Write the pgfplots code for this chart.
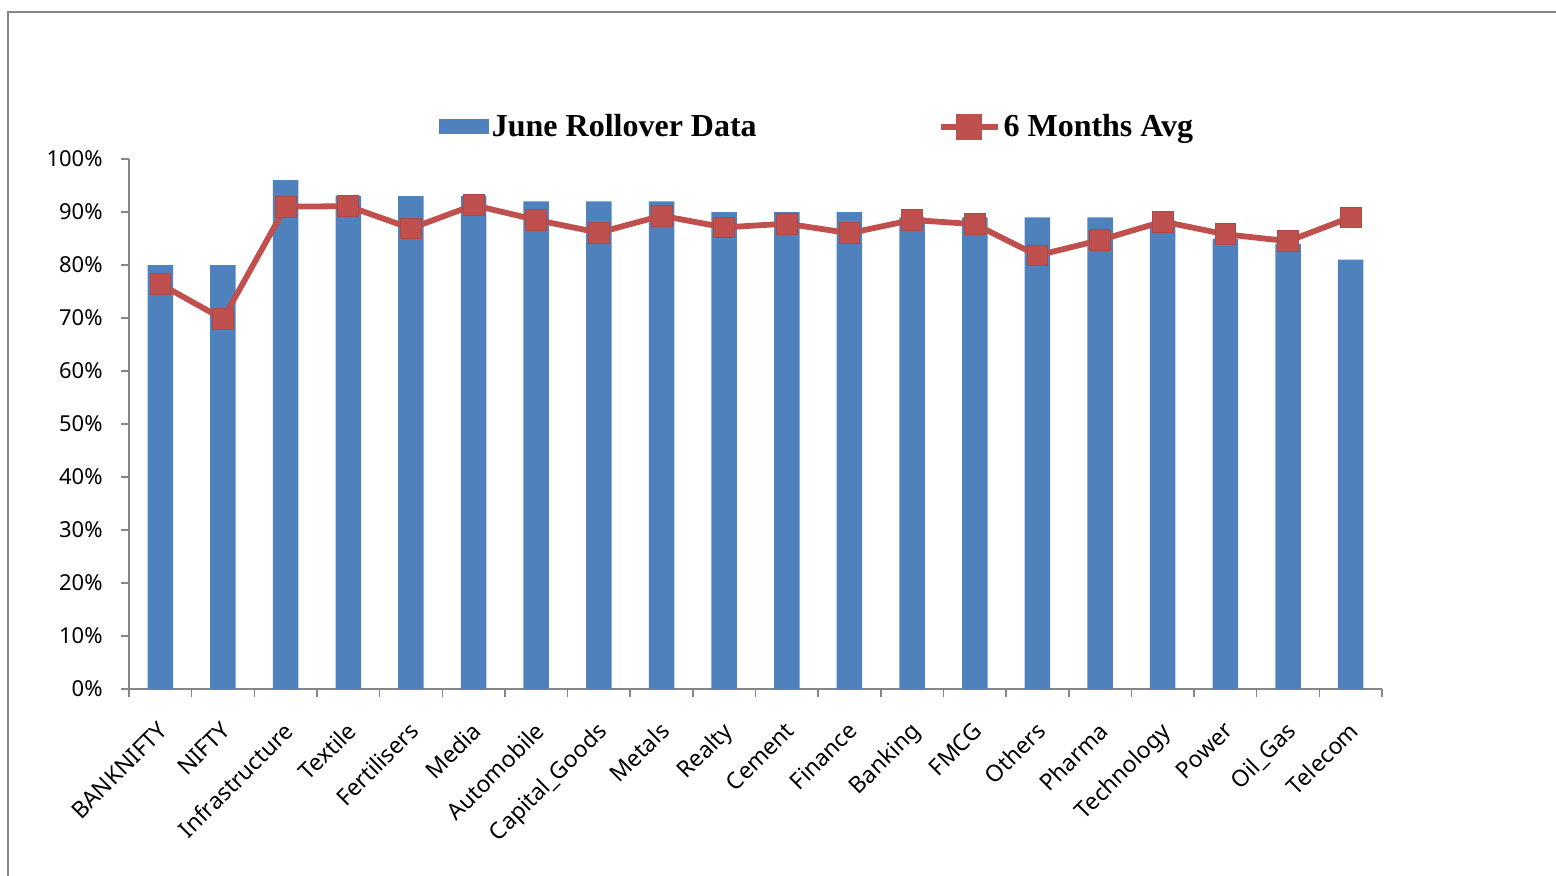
\documentclass[border=0pt]{standalone}
\usepackage{fontspec}
\setmainfont{Noto Sans}
\newfontfamily\legfont{Liberation Serif}
\usepackage{pgfplots}
\usepackage{pgfplotstable}
\pgfplotsset{compat=1.18}
\definecolor{barblue}{HTML}{4F81BD}
\definecolor{linered}{HTML}{C0504D}
\definecolor{axgray}{HTML}{868686}

\pgfplotstableread{
x june avg
0 80 76.4
1 80 69.8
2 96 91.0
3 93 91.1
4 93 86.9
5 93 91.3
6 92 88.5
7 92 86.1
8 92 89.3
9 90 87.1
10 90 87.8
11 90 86.0
12 89 88.5
13 89 87.7
14 89 81.8
15 89 84.7
16 88 88.2
17 85 85.8
18 84 84.5
19 81 89.0
}\datatable

\begin{document}
\begin{tikzpicture}
\useasboundingbox (0,0) rectangle (778pt,437.5pt);
\draw[axgray, line width=1pt] (4pt,-5pt) -- (4pt,431.5pt) -- (790pt,431.5pt);
\begin{axis}[
  at={(64.5pt,93pt)}, anchor=south west,
  scale only axis, width=626.5pt, height=265pt,
  xmin=-0.5, xmax=19.5, ymin=0, ymax=100,
  axis lines*=left,
  axis line style={draw=axgray, line width=0.75pt, -},
  tick style={draw=axgray, line width=0.75pt},
  tick align=outside, major tick length=4pt,
  xtick={-0.5,0.5,...,19.5},
  x tick label as interval,
  xticklabels={BANKNIFTY,NIFTY,Infrastructure,Textile,Fertilisers,Media,Automobile,Capital\_Goods,Metals,Realty,Cement,Finance,Banking,FMCG,Others,Pharma,Technology,Power,Oil\_Gas,Telecom},
  xticklabel style={font=\fontsize{11.5}{13}\selectfont, yshift=-11.5pt, xshift=-1.5pt, rotate=45, anchor=north east, inner sep=0pt},
  ytick={0,10,...,100},
  yticklabels={0\%,10\%,20\%,30\%,40\%,50\%,60\%,70\%,80\%,90\%,100\%},
  yticklabel style={font=\fontsize{11}{13}\selectfont, anchor=east, inner sep=0pt, xshift=-9pt},
  legend columns=2,
  legend style={at={(0.2470,1.0604)}, anchor=west, draw=none, fill=none, inner sep=0pt,
    font=\legfont\bfseries\fontsize{16}{18}\selectfont,
    nodes={inner sep=1.5pt},
    /tikz/every even column/.append style={column sep=89pt}},
]
\addplot[ybar, bar width=12.75pt, bar shift=0pt, fill=barblue, draw=none,
  legend image code/.code={\fill[barblue] (0pt,-3.75pt) rectangle (25pt,3.75pt);}]
  table[x=x, y=june] {\datatable};
\addlegendentry{June Rollover Data}
\addplot[color=linered, line width=2.9pt, mark=square*, mark size=5.2pt,
  mark options={fill=linered, draw=linered!90!black, line width=0.4pt},
  legend image code/.code={\draw[linered, line width=2.9pt] (0pt,0pt) -- (28.5pt,0pt);
    \fill[linered] (9.25pt,-5pt) rectangle (19.25pt,5pt);}]
  table[x=x, y=avg] {\datatable};
\addlegendentry{6 Months Avg}
\end{axis}
\end{tikzpicture}
\end{document}
